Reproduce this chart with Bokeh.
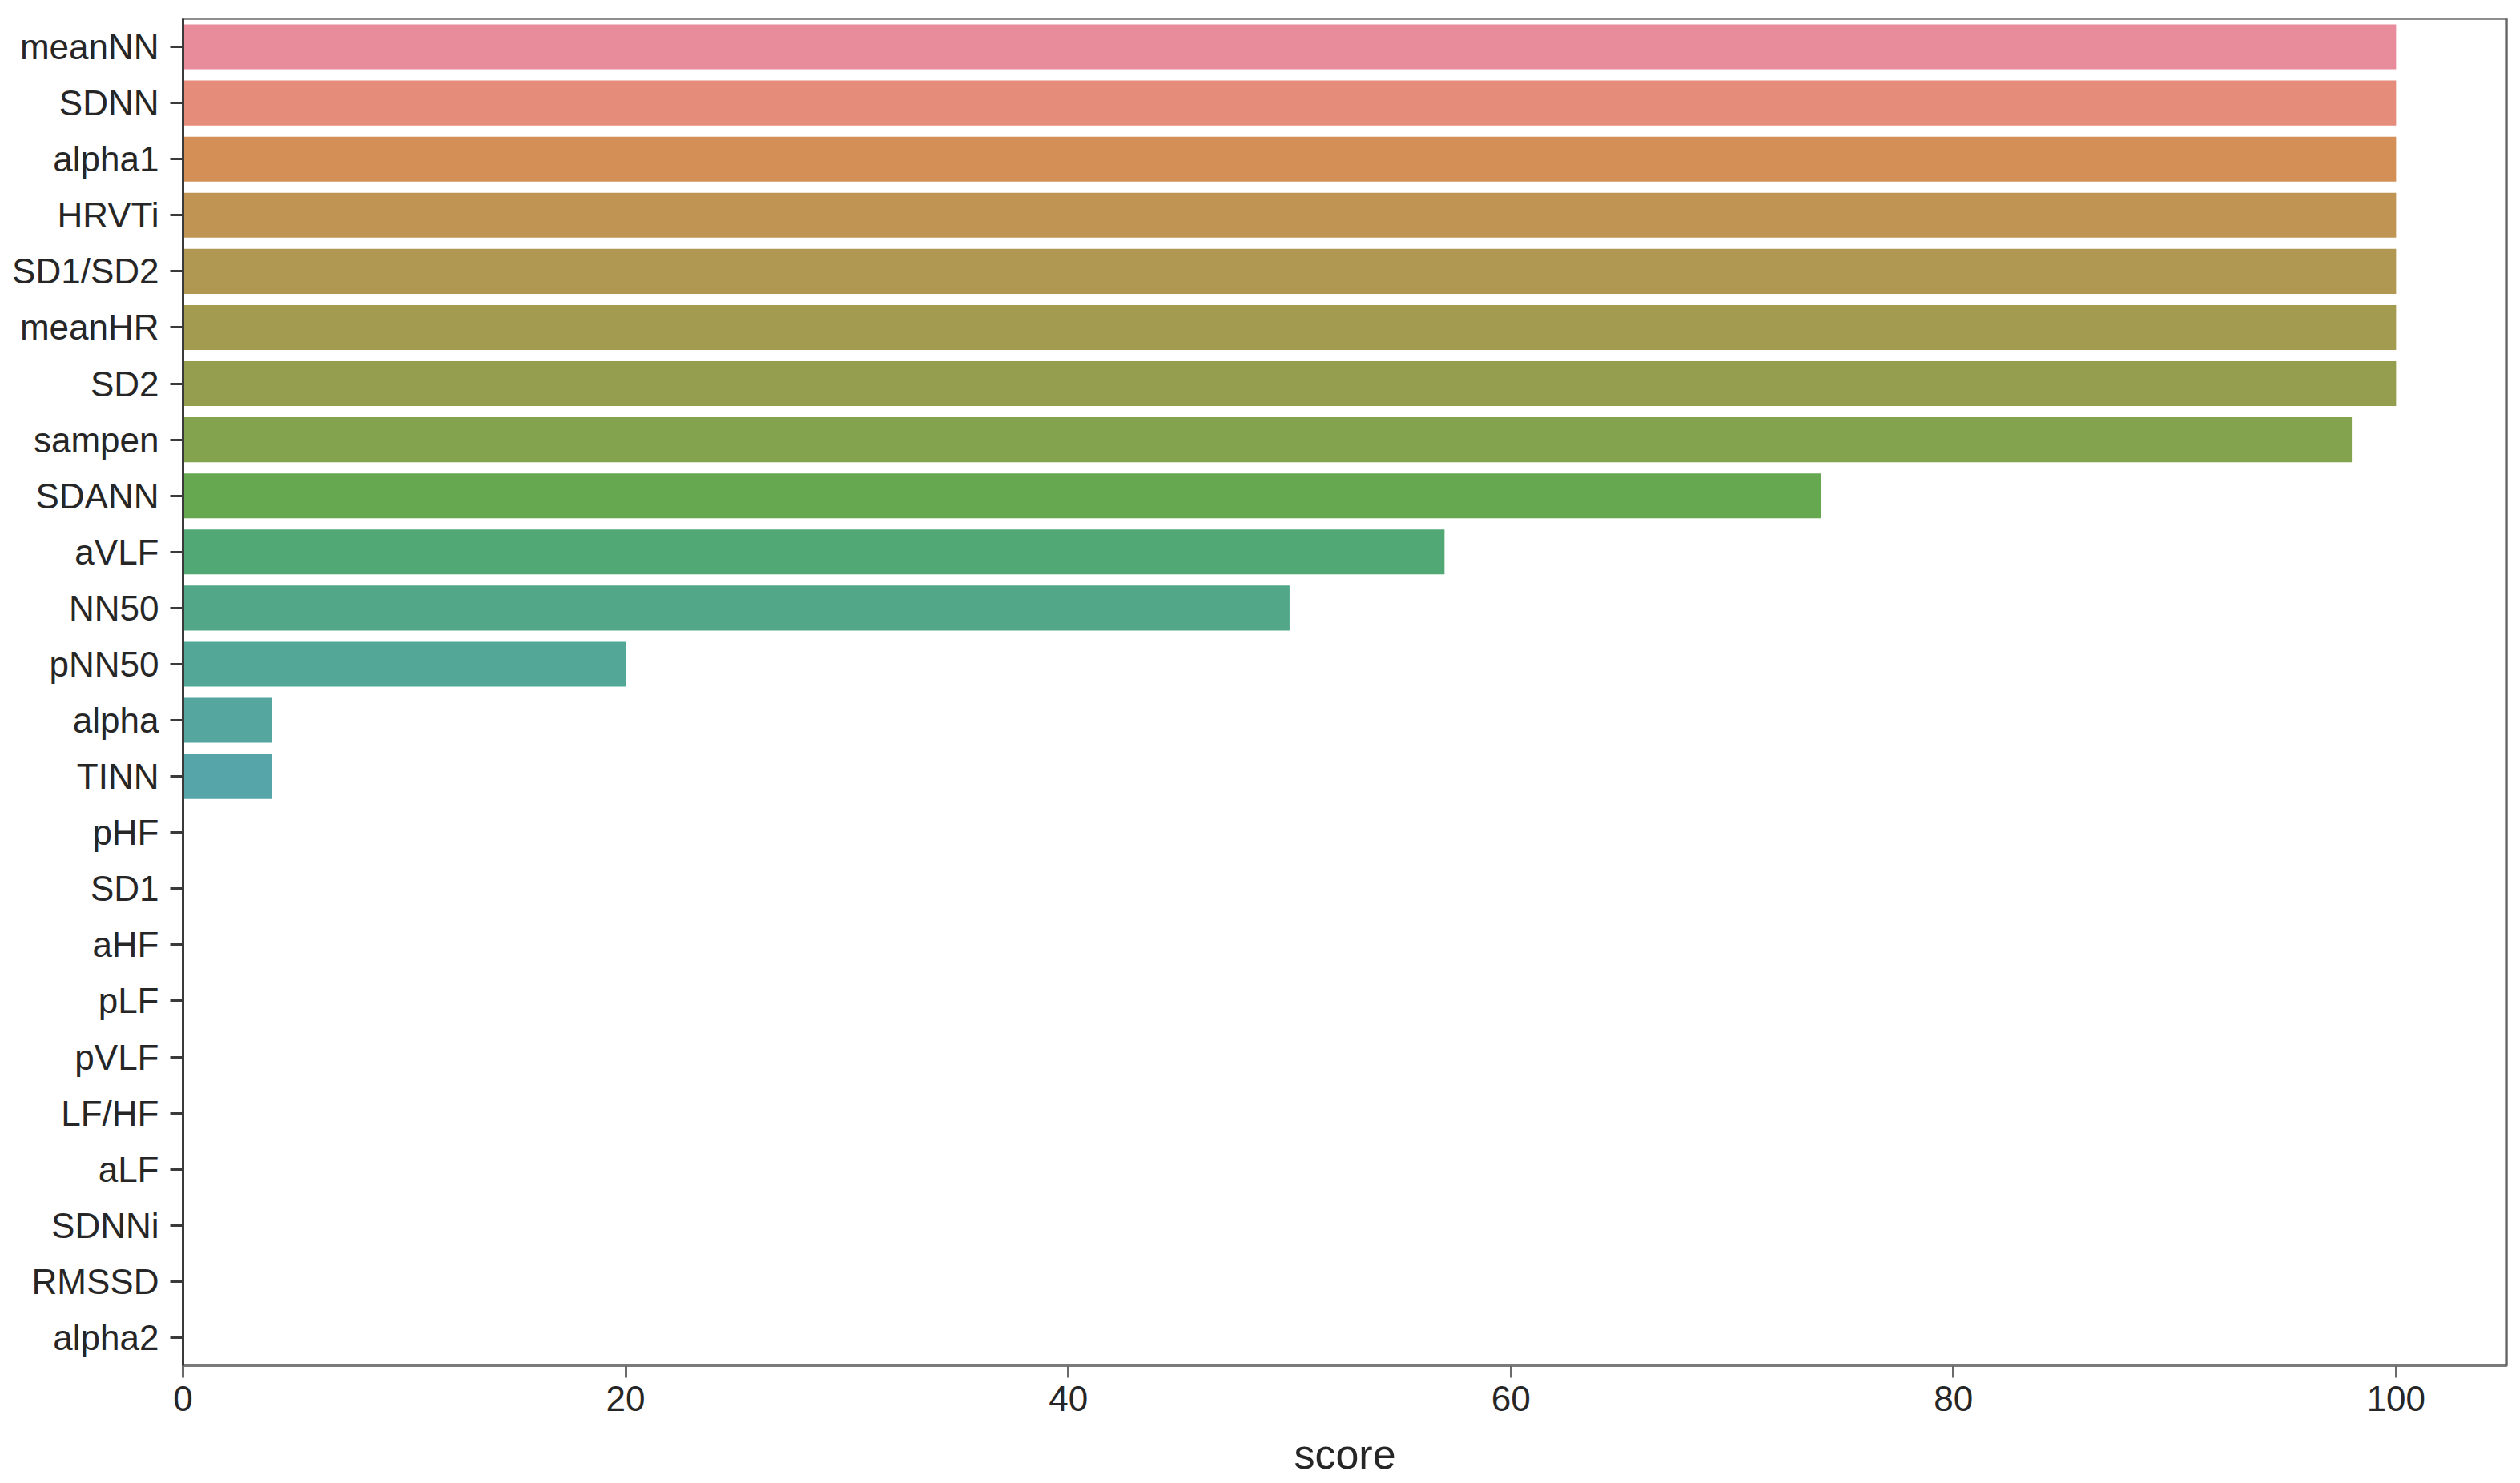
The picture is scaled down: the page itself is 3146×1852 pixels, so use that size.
import math
import colorsys
import numpy as np
from bokeh.plotting import figure
from bokeh.models import ColumnDataSource, FactorRange, Range1d, FixedTicker, Span
from bokeh.embed import file_html
from bokeh.resources import INLINE

# ---------------- data ----------------
features = ["meanNN", "SDNN", "alpha1", "HRVTi", "SD1/SD2", "meanHR", "SD2",
            "sampen", "SDANN", "aVLF", "NN50", "pNN50", "alpha", "TINN",
            "pHF", "SD1", "aHF", "pLF", "pVLF", "LF/HF", "aLF", "SDNNi",
            "RMSSD", "alpha2"]
scores = [100, 100, 100, 100, 100, 100, 100,
          98, 74, 57, 50, 20, 4, 4,
          0, 0, 0, 0, 0, 0, 0, 0,
          0, 0]
x_ticks = [0, 20, 40, 60, 80, 100]

# ---------------- seaborn husl palette (style) ----------------
_M = [[3.240969941904521, -1.537383177570093, -0.498610760293],
      [-0.96924363628087, 1.87596750150772, 0.041555057407175],
      [0.055630079696993, -0.20397695888897, 1.056971514242878]]
_REF_U = 0.19783000664283
_REF_V = 0.46831999493879
_KAPPA = 903.2962962
_EPS = 0.0088564516


def _max_chroma(L, H):
    hrad = math.radians(H)
    sinH, cosH = math.sin(hrad), math.cos(hrad)
    sub1 = (L + 16) ** 3 / 1560896.0
    sub2 = sub1 if sub1 > _EPS else L / _KAPPA
    result = float("inf")
    for m1, m2, m3 in _M:
        top = (0.99915 * m1 + 1.05122 * m2 + 1.14460 * m3) * sub2
        rbottom = 0.86330 * m3 - 0.17266 * m2
        lbottom = 0.12949 * m3 - 0.38848 * m1
        bottom = (rbottom * sinH + lbottom * cosH) * sub2
        for t in (0.0, 1.0):
            C = L * (top - 1.05122 * t) / (bottom + 0.17266 * sinH * t)
            if 0 < C < result:
                result = C
    return result


def _f_inv(t):
    if t > 8:
        return ((t + 16) / 116.0) ** 3
    return t / _KAPPA


def _from_linear(c):
    if c <= 0.0031308:
        return 12.92 * c
    return 1.055 * c ** (1 / 2.4) - 0.055


def husl_to_rgb(h, s, l):
    C = _max_chroma(l, h) / 100.0 * s
    hrad = math.radians(h)
    U, V = math.cos(hrad) * C, math.sin(hrad) * C
    if l == 0:
        return (0.0, 0.0, 0.0)
    varY = _f_inv(l)
    varU = U / (13.0 * l) + _REF_U
    varV = V / (13.0 * l) + _REF_V
    Y = varY
    X = 0 - (9 * Y * varU) / ((varU - 4.0) * varV - varU * varV)
    Z = (9.0 * Y - (15.0 * varV * Y) - (varV * X)) / (3.0 * varV)
    rgb = [_from_linear(r[0] * X + r[1] * Y + r[2] * Z) for r in _M]
    return tuple(min(max(c, 0.0), 1.0) for c in rgb)


def husl_palette(n, h=0.01, s=0.9, l=0.65):
    hues = np.linspace(0, 1, n + 1)[:-1]
    hues = (hues + h) % 1 * 359
    return [husl_to_rgb(hh, s * 99, l * 99) for hh in hues]


def desat(rgb, prop=0.75):
    hh, ll, ss = colorsys.rgb_to_hls(*rgb)
    return colorsys.hls_to_rgb(hh, ll, ss * prop)


def to_hex(rgb):
    return "#%02x%02x%02x" % tuple(int(round(c * 255)) for c in rgb)


colors = [to_hex(desat(c)) for c in husl_palette(len(features))]

# ---------------- figure ----------------
src = ColumnDataSource(dict(feature=features, score=scores, color=colors))

p = figure(
    y_range=FactorRange(factors=list(reversed(features))),
    x_range=Range1d(0, 105),
    frame_width=2901, frame_height=1682,
    min_border_left=228, min_border_right=9,
    min_border_top=23, min_border_bottom=136,
    output_backend="svg", toolbar_location=None,
)
p.background_fill_color = "white"
p.border_fill_color = "white"

p.hbar(y="feature", right="score", left=0, height=0.8, color="color",
       fill_alpha=0.92, line_color=None, source=src)

# axes styling (matplotlib/seaborn look)
p.xgrid.visible = False
p.ygrid.visible = False
p.outline_line_color = "#8f8f8f"
p.outline_line_width = 3

p.xaxis.ticker = FixedTicker(ticks=x_ticks)
p.xaxis.minor_tick_line_color = None
p.xaxis.major_tick_in = 0
p.xaxis.major_tick_out = 15
p.xaxis.major_tick_line_color = "#6a6a6a"
p.xaxis.major_tick_line_width = 3
p.xaxis.axis_line_color = "#7a7a7a"
p.xaxis.axis_line_width = 3
p.xaxis.major_label_text_font = "Liberation Sans"
p.xaxis.major_label_text_font_size = "44px"
p.xaxis.major_label_text_color = "#262626"
p.xaxis.major_label_standoff = 10
p.xaxis.axis_label = "score"
p.xaxis.axis_label_text_font = "Liberation Sans"
p.xaxis.axis_label_text_font_size = "52px"
p.xaxis.axis_label_text_font_style = "normal"
p.xaxis.axis_label_text_color = "#262626"
p.xaxis.axis_label_standoff = 22

p.yaxis.major_tick_in = 0
p.yaxis.major_tick_out = 16
p.yaxis.major_tick_line_color = "#3a3a3a"
p.yaxis.major_tick_line_width = 3
p.yaxis.axis_line_color = "#3a3a3a"
p.yaxis.axis_line_width = 3
p.yaxis.major_label_text_font = "Liberation Sans"
p.yaxis.major_label_text_font_size = "44px"
p.yaxis.major_label_text_color = "#262626"
p.yaxis.major_label_standoff = 14

# right spine (darker, like the reference)
p.add_layout(Span(location=105, dimension="height", line_color="#3a3a3a",
                  line_width=4))

open("out.html", "w").write(file_html(p, INLINE))
